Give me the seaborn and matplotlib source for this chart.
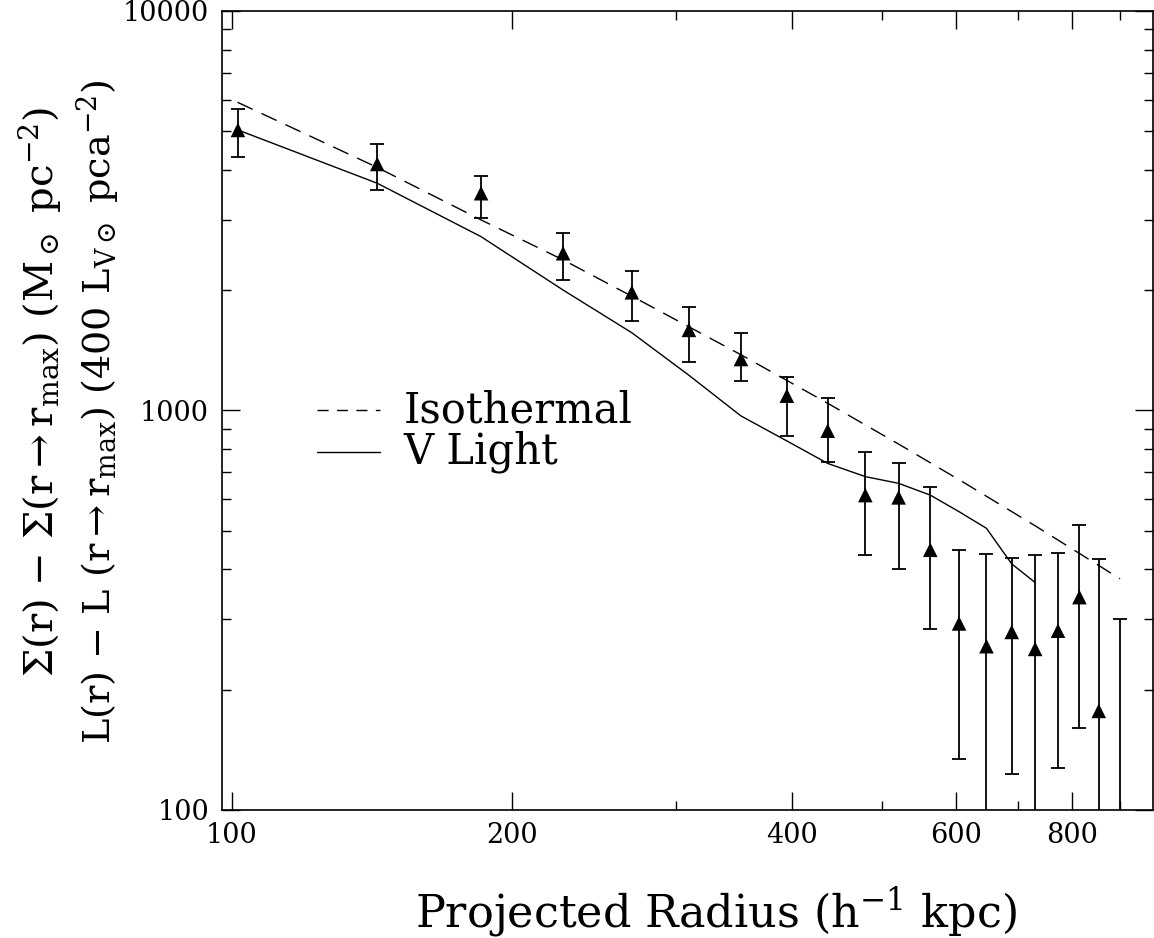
import numpy as np
import pandas as pd
import matplotlib
matplotlib.use("Agg")
import matplotlib.pyplot as plt
import matplotlib.ticker as mticker
import seaborn as sns

# --- data ---
radius = [101.6, 143.4, 185.4, 227.1, 269.2, 310.0, 352.6, 395.0, 437.0, 479.6,
          520.8, 563.2, 604.8, 647.2, 688.9, 730.0, 772.5, 814.5, 854.4, 901.1]
sigma = [5037, 4140, 3498, 2475, 1976, 1591, 1345, 1089, 890, 614,
         606, 448, 293, 257, 279, 253, 281, 341, 177, 60]
sigma_hi = [5673, 4647, 3870, 2777, 2235, 1816, 1565, 1215, 1073, 789,
            740, 642, 448, 437, 428, 435, 441, 517, 425, 301]
sigma_lo = [4310, 3558, 3038, 2118, 1675, 1323, 1187, 865, 744, 435,
            401, 284, 134, 50, 123, 50, 127, 160, 50, 30]

iso_r = [101.5, 143.3, 185.4, 227.2, 278.2, 352.9, 437.1, 522.6, 610.7, 733.4, 900.6]
iso_val = [5908, 4062, 2999, 2381, 1855, 1377, 1042, 820, 662, 511, 379]

light_r = [101.6, 143.4, 185.4, 227.1, 269.2, 310.0, 352.6, 395.0, 437.0, 479.6,
           520.8, 563.2, 604.8, 647.2, 688.9, 730.0]
light_val = [5037, 3705, 2723, 2002, 1565, 1225, 969, 839, 737, 683,
             657, 614, 558, 507, 413, 371]

xticks_major = [100, 200, 400, 600, 800]
xticks_minor = [300, 500, 700, 900]

sns.set_style("ticks")
plt.rcParams['font.family'] = ['DejaVu Serif']
plt.rcParams['mathtext.fontset'] = 'dejavuserif'
plt.rcParams['text.color'] = 'black'

fig = plt.figure(figsize=(11.54, 9.38), dpi=100)
ax = fig.add_axes([0.1921, 0.1365, 0.807, 0.8518])

df_pts = pd.DataFrame({'r': radius, 's': sigma})
df_iso = pd.DataFrame({'r': iso_r, 's': iso_val})
df_light = pd.DataFrame({'r': light_r, 's': light_val})

# error bars
s = np.array(sigma, dtype=float)
yerr = [s - np.array(sigma_lo), np.array(sigma_hi) - s]
ax.errorbar(radius, sigma, yerr=yerr, fmt='none', ecolor='black',
            elinewidth=1.3, capsize=5, capthick=1.3)
sns.scatterplot(data=df_pts, x='r', y='s', marker='^', s=110, color='black',
                edgecolor='none', ax=ax, zorder=5)

sns.lineplot(data=df_iso, x='r', y='s', color='black', linewidth=1.0,
             linestyle=(0, (12, 7)), estimator=None, ax=ax)
sns.lineplot(data=df_light, x='r', y='s', color='black', linewidth=1.0,
             estimator=None, ax=ax)

ax.set_xscale('log')
ax.set_yscale('log')
ax.set_xlim(97.6, 977)
ax.set_ylim(100, 10000)

ax.xaxis.set_major_locator(mticker.FixedLocator(xticks_major))
ax.xaxis.set_minor_locator(mticker.FixedLocator(xticks_minor))
ax.xaxis.set_major_formatter(mticker.FixedFormatter([str(v) for v in xticks_major]))
ax.xaxis.set_minor_formatter(mticker.NullFormatter())
ax.yaxis.set_major_locator(mticker.LogLocator(base=10))
ax.yaxis.set_minor_locator(mticker.LogLocator(base=10, subs=np.arange(2, 10)))
ax.yaxis.set_major_formatter(mticker.FuncFormatter(lambda v, p: f"{v:.0f}"))
ax.yaxis.set_minor_formatter(mticker.NullFormatter())

ax.tick_params(which='both', direction='in', top=True, right=True,
               width=1.0, colors='black', labelsize=19.5)
ax.tick_params(which='major', length=13, pad=9)
ax.tick_params(which='minor', length=6.5)
for sp in ax.spines.values():
    sp.set_linewidth(1.2)
    sp.set_color('black')

ax.set_xlabel('')
ax.set_ylabel('')

# legend drawn like the original (line sample + label)
ax.plot([0.102, 0.170], [0.5, 0.5], transform=ax.transAxes, color='black',
        linewidth=1.0, linestyle=(0, (8, 6)))
ax.plot([0.102, 0.170], [0.448, 0.448], transform=ax.transAxes, color='black',
        linewidth=1.0)
ax.text(0.195, 0.5, 'Isothermal', transform=ax.transAxes, fontsize=30,
        va='center', ha='left', color='black')
ax.text(0.195, 0.448, 'V Light', transform=ax.transAxes, fontsize=30,
        va='center', ha='left', color='black')

fig.text(716 / 1154, 1 - 912 / 938, r'Projected Radius (h$^{-1}$ kpc)',
         fontsize=32, ha='center', va='center', color='black')
fig.text(40 / 1154, 1 - 392 / 938,
         r'$\Sigma$(r) $-$ $\Sigma$(r$\rightarrow$r$_{\rm max}$) (M$_\odot$ pc$^{-2}$)',
         fontsize=29, rotation=90, ha='center', va='center', color='black')
fig.text(98 / 1154, 1 - 412 / 938,
         r'L(r) $-$ L (r$\rightarrow$r$_{\rm max}$) (400 L$_{\rm V\odot}$ pca$^{-2}$)',
         fontsize=27.5, rotation=90, ha='center', va='center', color='black')

fig.savefig('out.png', dpi=100)
